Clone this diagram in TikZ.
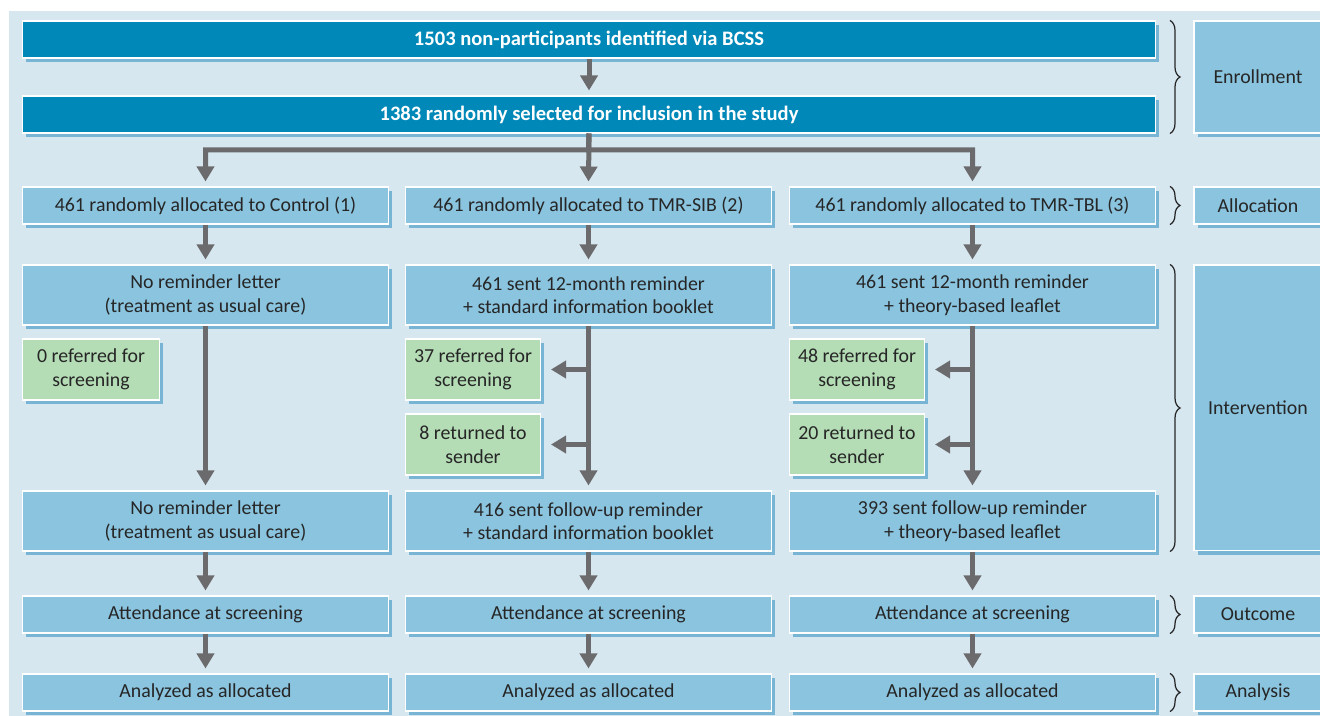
\documentclass[tikz,border=0pt]{standalone}
\usepackage{fontspec}
\setmainfont{Carlito}
\usepackage{xcolor}
\usepackage{tikz}
\usetikzlibrary{positioning}
\usetikzlibrary{arrows.meta}
\usetikzlibrary{decorations.pathreplacing}
\usetikzlibrary{shadows}
\definecolor{panel}{HTML}{D6E7F0}
\definecolor{boxblue}{HTML}{8AC4DF}
\definecolor{darkblue}{HTML}{0089B8}
\definecolor{leafgreen}{HTML}{B4DCB5}
\definecolor{shadeblue}{HTML}{78B5D4}
\definecolor{arrowgrey}{HTML}{6B6B6D}
\definecolor{ink}{HTML}{262626}

\begin{document}
\begin{tikzpicture}[x=0.02cm,y=-0.02cm,
    box/.style={draw=white,line width=0.6pt,fill=boxblue,text=ink,align=center,inner sep=1pt,
        minimum height=0.74cm,font=\fontsize{11.3}{13.4}\selectfont,
        general shadow={fill=shadeblue,shadow xshift=0.07cm,shadow yshift=-0.08cm}},
    colbox/.style={box,minimum width=7.34cm},
    tallbox/.style={colbox,minimum height=1.2cm},
    topbox/.style={box,fill=darkblue,text=white,minimum width=22.68cm,font=\fontsize{11.7}{13.4}\selectfont\bfseries},
    refbox/.style={box,fill=leafgreen,minimum width=2.74cm,minimum height=1.22cm},
    stagebox/.style={box,minimum width=2.56cm},
    flow/.style={draw=arrowgrey,line width=0.1cm,-{Triangle[width=0.34cm,length=0.3cm]},shorten >=0.1cm},
    stagebrace/.style={draw=ink,line width=0.7pt,decorate,decoration={brace,amplitude=0.2cm}}]

    \useasboundingbox (0,0) rectangle (1320,716);
    \fill[panel] (9,11) rectangle (1330,720);

    % enrollment
    \node[topbox] (enr1) at (589,39.5) {1503 non-participants identified via BCSS};
    \node[topbox] (enr2) at (589,114.5) {1383 randomly selected for inclusion in the study};
    \coordinate (split) at (588.5,150);

    % three arms
    \node[colbox] (al1) at (205.5,205.5) {461 randomly allocated to Control (1)};
    \node[colbox] (al2) at (588.5,205.5) {461 randomly allocated to TMR-SIB (2)};
    \node[colbox] (al3) at (972.5,205.5) {461 randomly allocated to TMR-TBL (3)};

    \node[tallbox] (in1a) at (205.5,295) {No reminder letter\\(treatment as usual care)};
    \node[tallbox] (in2a) at (588.5,295) {461 sent 12-month reminder\\+ standard information booklet};
    \node[tallbox] (in3a) at (972.5,295) {461 sent 12-month reminder\\+ theory-based leaflet};

    \node[refbox] (ref1) at (91,369.5) {0 referred for\\screening};
    \node[refbox,minimum width=2.7cm] (ref2) at (473,369.5) {37 referred for\\screening};
    \node[refbox,minimum width=2.7cm] (ret2) at (473,444.5) {8 returned to\\sender};
    \node[refbox,minimum width=2.7cm] (ref3) at (857,369.5) {48 referred for\\screening};
    \node[refbox,minimum width=2.7cm] (ret3) at (857,444.5) {20 returned to\\sender};

    \node[tallbox] (in1b) at (205.5,521) {No reminder letter\\(treatment as usual care)};
    \node[tallbox] (in2b) at (588.5,521) {416 sent follow-up reminder\\+ standard information booklet};
    \node[tallbox] (in3b) at (972.5,521) {393 sent follow-up reminder\\+ theory-based leaflet};

    \node[colbox] (out1) at (205.5,614.5) {Attendance at screening};
    \node[colbox] (out2) at (588.5,614.5) {Attendance at screening};
    \node[colbox] (out3) at (972.5,614.5) {Attendance at screening};

    \node[colbox] (an1) at (205.5,692.5) {Analyzed as allocated};
    \node[colbox] (an2) at (588.5,692.5) {Analyzed as allocated};
    \node[colbox] (an3) at (972.5,692.5) {Analyzed as allocated};

    % stages
    \node[stagebox,minimum height=2.24cm] (sEnr) at (1258,77) {Enrollment};
    \node[stagebox] (sAll) at (1258,205.5) {Allocation};
    \node[stagebox,minimum height=5.72cm] (sInt) at (1258,408) {Intervention};
    \node[stagebox] (sOut) at (1258,614.5) {Outcome};
    \node[stagebox] (sAn) at (1258,692.5) {Analysis};

    \coordinate (bx) at (1170,0);
    \draw[stagebrace] (bx |- enr1.north) -- (bx |- enr2.south);
    \draw[stagebrace] (bx |- al3.north) -- (bx |- al3.south);
    \draw[stagebrace] (bx |- in3a.north) -- (bx |- in3b.south);
    \draw[stagebrace] (bx |- out3.north) -- (bx |- out3.south);
    \draw[stagebrace] (bx |- an3.north) -- (bx |- an3.south);

    % arrows
    \draw[flow] (enr1.south) -- (enr2.north);
    \draw[flow] (enr2.south) -- (split) -| (al1.north);
    \draw[flow] (enr2.south) -- (al2.north);
    \draw[flow] (enr2.south) -- (split) -| (al3.north);

    \foreach \c in {1,2,3} {
        \draw[flow] (al\c.south) -- (in\c a.north);
        \draw[flow] (in\c a.south) -- (in\c b.north);
        \draw[flow] (in\c b.south) -- (out\c.north);
        \draw[flow] (out\c.south) -- (an\c.north);
    }
    \draw[flow,shorten >=0.2cm] (in2a.south |- ref2.east) -- (ref2.east);
    \draw[flow,shorten >=0.2cm] (in2a.south |- ret2.east) -- (ret2.east);
    \draw[flow,shorten >=0.2cm] (in3a.south |- ref3.east) -- (ref3.east);
    \draw[flow,shorten >=0.2cm] (in3a.south |- ret3.east) -- (ret3.east);
\end{tikzpicture}
\end{document}
